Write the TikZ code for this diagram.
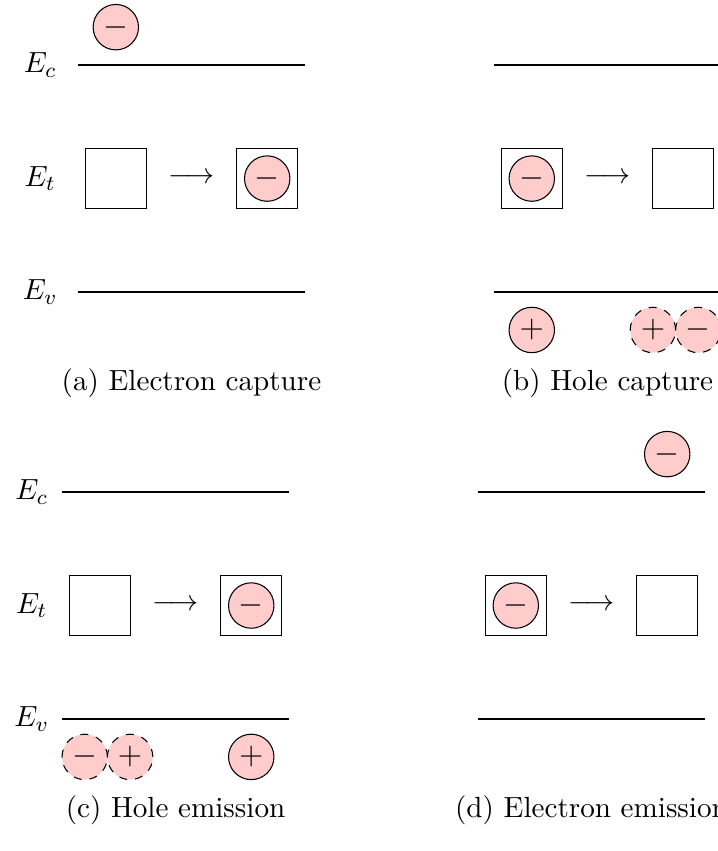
\documentclass[tikz,border=0pt,11pt]{standalone}
\usepackage{amsmath}
\usepackage{amssymb}
\usepackage{tikz}

\begin{document}
\begin{tikzpicture}[
    >=stealth,
    every node/.style={font=\normalsize},
    trap/.style={draw, rectangle, minimum size=8mm, inner sep=0pt},
    carrier/.style={draw, circle, fill=red!20, minimum size=6mm, inner sep=0pt, font=\large},
    virtual/.style={carrier, dashed},
    band/.style={line width=0.5pt}
]
\useasboundingbox (-1.03,0.859) rectangle (8.454,-10.383);

\begin{scope}
  \draw[band] (0,0) -- (3,0);
  \draw[band] (0,-3) -- (3,-3);
  \node (aEc) at (-0.5,0) {$E_c$};
  \node (aEt) at (-0.5,-1.5) {$E_t$};
  \node (aEv) at (-0.5,-3) {$E_v$};
  \node[carrier] (aE) at (0.5,0.5) {$-$};
  \node[trap] (aT1) at (0.5,-1.5) {};
  \node (aArr) at (1.5,-1.5) {$\longrightarrow$};
  \node[trap] (aT2) at (2.5,-1.5) {};
  \node[carrier] (aTE) at (aT2) {$-$};
  \node (aCap) at (1.5,-4.2) {(a) Electron capture};
\end{scope}

\begin{scope}[xshift=5.495cm]
  \draw[band] (0,0) -- (3,0);
  \draw[band] (0,-3) -- (3,-3);
  \node[trap] (bT1) at (0.5,-1.5) {};
  \node[carrier] (bTE) at (bT1) {$-$};
  \node (bArr) at (1.5,-1.5) {$\longrightarrow$};
  \node[trap] (bT2) at (2.5,-1.5) {};
  \node[carrier] (bH) at (0.5,-3.5) {$+$};
  \node[virtual] (bVH) at (2.1,-3.5) {$+$};
  \node[virtual] (bVE) at (2.7,-3.5) {$-$};
  \node (bCap) at (1.5,-4.2) {(b) Hole capture};
\end{scope}

\begin{scope}[xshift=-0.211cm, yshift=-5.64cm]
  \draw[band] (0,0) -- (3,0);
  \draw[band] (0,-3) -- (3,-3);
  \node (cEc) at (-0.4,0) {$E_c$};
  \node (cEt) at (-0.4,-1.5) {$E_t$};
  \node (cEv) at (-0.4,-3) {$E_v$};
  \node[trap] (cT1) at (0.5,-1.5) {};
  \node (cArr) at (1.5,-1.5) {$\longrightarrow$};
  \node[trap] (cT2) at (2.5,-1.5) {};
  \node[carrier] (cTE) at (cT2) {$-$};
  \node[virtual] (cVE) at (0.3,-3.5) {$-$};
  \node[virtual] (cVH) at (0.9,-3.5) {$+$};
  \node[carrier] (cH) at (2.5,-3.5) {$+$};
  \node (cCap) at (1.5,-4.2) {(c) Hole emission};
\end{scope}

\begin{scope}[xshift=5.284cm, yshift=-5.64cm]
  \draw[band] (0,0) -- (3,0);
  \draw[band] (0,-3) -- (3,-3);
  \node[carrier] (dE) at (2.5,0.5) {$-$};
  \node[trap] (dT1) at (0.5,-1.5) {};
  \node[carrier] (dTE) at (dT1) {$-$};
  \node (dArr) at (1.5,-1.5) {$\longrightarrow$};
  \node[trap] (dT2) at (2.5,-1.5) {};
  \node (dCap) at (1.5,-4.2) {(d) Electron emission};
\end{scope}
\end{tikzpicture}
\end{document}
